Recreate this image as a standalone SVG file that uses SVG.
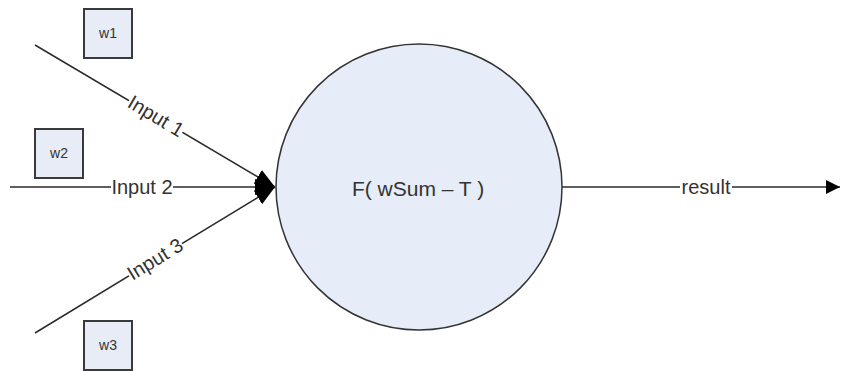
<svg xmlns="http://www.w3.org/2000/svg" width="841" height="371" viewBox="0 0 841 371">
<style>
.box{fill:#e7ecf7;stroke:#3a3a3a;stroke-width:2}
.wt{font-family:"Liberation Sans",Arial,sans-serif;font-size:14px;fill:#333;text-anchor:middle;dominant-baseline:central}
.conn{stroke:#2a2a2a;stroke-width:1.5;fill:none}
.in{marker-end:url(#ahbig)}
.out{marker-end:url(#ah)}
.lbl{font-family:"Liberation Sans",Arial,sans-serif;font-size:20px;fill:#333;text-anchor:middle;dominant-baseline:central}
.bg{fill:#fff}
</style>
<defs>
<marker id="ah" viewBox="0 0 14 14" refX="14" refY="7" markerWidth="14" markerHeight="14" markerUnits="userSpaceOnUse" orient="auto">
<path d="M0,0 L14,7 L0,14 z" fill="#000"/>
</marker>
<marker id="ahbig" viewBox="0 0 20 16" refX="20" refY="8" markerWidth="20" markerHeight="16" markerUnits="userSpaceOnUse" orient="auto">
<path d="M0,0 L20,8 L0,16 z" fill="#000"/>
</marker>
</defs>
<rect width="841" height="371" fill="#fff"/>
<g id="connectors">
<line x1="35" y1="45" x2="275" y2="187" class="conn in"/>
<line x1="10" y1="187" x2="275" y2="187" class="conn in"/>
<line x1="35" y1="333" x2="275" y2="187" class="conn in"/>
<line x1="562" y1="187" x2="840" y2="187" class="conn out"/>
<g transform="translate(156,116) rotate(30.8)"><rect class="bg" x="-31" y="-8" width="62" height="16"/><text class="lbl" x="0" y="0">Input 1</text></g>
<g transform="translate(142,187)"><rect class="bg" x="-31" y="-8" width="62" height="16"/><text class="lbl" x="0" y="0">Input 2</text></g>
<g transform="translate(155,259) rotate(-31.5)"><rect class="bg" x="-31" y="-8" width="62" height="16"/><text class="lbl" x="0" y="0">Input 3</text></g>
<g transform="translate(706,187)"><rect class="bg" x="-26" y="-8" width="52" height="16"/><text class="lbl" x="0" y="0">result</text></g>
</g>
<g id="neuron">
<circle cx="419" cy="187" r="143" fill="#e6ecf8" stroke="#333" stroke-width="1.5"/>
<text x="418" y="188" font-family="Liberation Sans, Arial, sans-serif" font-size="21" fill="#333" text-anchor="middle" dominant-baseline="central">F( wSum – T )</text>
</g>
<g id="w1"><rect class="box" x="84" y="9" width="48" height="49"/><text class="wt" x="108" y="33">w1</text></g>
<g id="w2"><rect class="box" x="35" y="129" width="48" height="49"/><text class="wt" x="59" y="153">w2</text></g>
<g id="w3"><rect class="box" x="84" y="321" width="48" height="49"/><text class="wt" x="108" y="345">w3</text></g>
</svg>
